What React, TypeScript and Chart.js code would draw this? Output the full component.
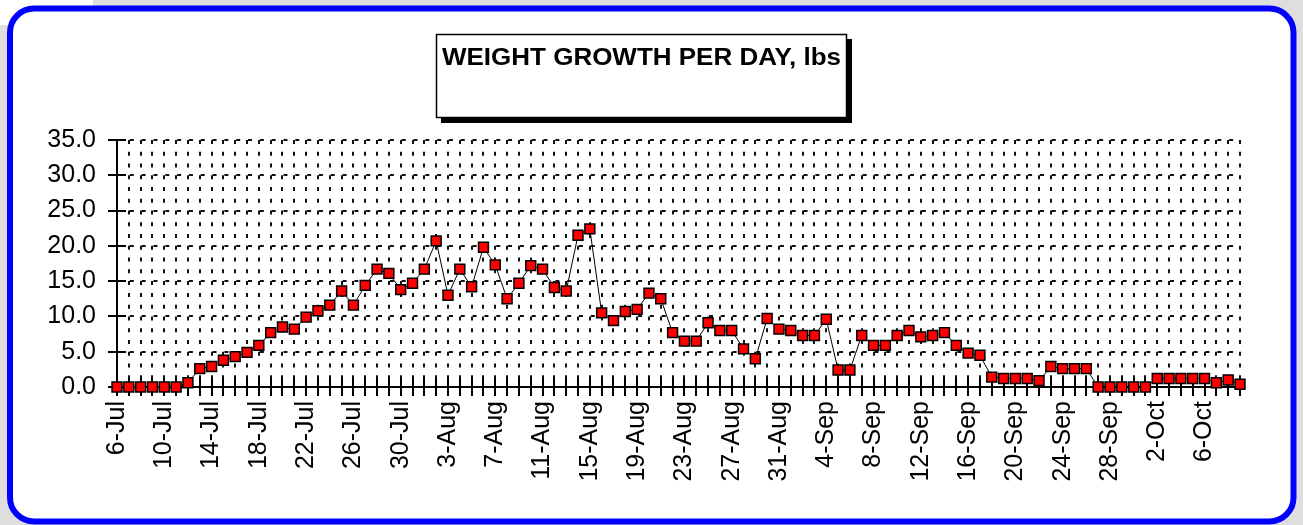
import React, { useEffect, useRef } from 'react';
import { Chart, registerables } from 'chart.js';

Chart.register(...registerables);

const DATES = [
  '6-Jul', '7-Jul', '8-Jul', '9-Jul', '10-Jul', '11-Jul', '12-Jul', '13-Jul', '14-Jul', '15-Jul',
  '16-Jul', '17-Jul', '18-Jul', '19-Jul', '20-Jul', '21-Jul', '22-Jul', '23-Jul', '24-Jul', '25-Jul',
  '26-Jul', '27-Jul', '28-Jul', '29-Jul', '30-Jul', '31-Jul',
  '1-Aug', '2-Aug', '3-Aug', '4-Aug', '5-Aug', '6-Aug', '7-Aug', '8-Aug', '9-Aug', '10-Aug',
  '11-Aug', '12-Aug', '13-Aug', '14-Aug', '15-Aug', '16-Aug', '17-Aug', '18-Aug', '19-Aug', '20-Aug',
  '21-Aug', '22-Aug', '23-Aug', '24-Aug', '25-Aug', '26-Aug', '27-Aug', '28-Aug', '29-Aug', '30-Aug', '31-Aug',
  '1-Sep', '2-Sep', '3-Sep', '4-Sep', '5-Sep', '6-Sep', '7-Sep', '8-Sep', '9-Sep', '10-Sep',
  '11-Sep', '12-Sep', '13-Sep', '14-Sep', '15-Sep', '16-Sep', '17-Sep', '18-Sep', '19-Sep', '20-Sep',
  '21-Sep', '22-Sep', '23-Sep', '24-Sep', '25-Sep', '26-Sep', '27-Sep', '28-Sep', '29-Sep', '30-Sep',
  '1-Oct', '2-Oct', '3-Oct', '4-Oct', '5-Oct', '6-Oct', '7-Oct', '8-Oct', '9-Oct',
];

const GROWTH = [
  0, 0, 0, 0, 0, 0, 0.6, 2.6, 2.9, 3.8,
  4.3, 4.9, 5.9, 7.7, 8.5, 8.2, 9.9, 10.8, 11.6, 13.6,
  11.6, 14.4, 16.7, 16.1, 13.8, 14.7, 16.7, 20.7, 13.0, 16.7,
  14.2, 19.8, 17.3, 12.5, 14.7, 17.2, 16.7, 14.1, 13.6, 21.5,
  22.4, 10.5, 9.4, 10.7, 11.0, 13.3, 12.5, 7.7, 6.5, 6.5,
  9.1, 8.0, 8.0, 5.4, 4.0, 9.7, 8.2, 8.0, 7.3, 7.3,
  9.6, 2.4, 2.4, 7.3, 5.9, 5.9, 7.3, 8.0, 7.1, 7.3,
  7.7, 5.9, 4.8, 4.5, 1.4, 1.2, 1.2, 1.2, 0.9, 2.9,
  2.6, 2.6, 2.6, 0, 0, 0, 0, 0, 1.2, 1.2,
  1.2, 1.2, 1.2, 0.6, 1.0, 0.4,
];

const TITLE = 'WEIGHT GROWTH PER DAY, lbs';
const Y_MIN = 0;
const Y_MAX = 35;
const Y_STEP = 5;
const LABEL_EVERY = 4;

const W = 1303;
const H = 525;
const FONT = '"Liberation Sans", Arial, sans-serif';

const framePlugin = {
  id: 'frame',
  beforeDraw(chart: any) {
    const ctx = chart.ctx as CanvasRenderingContext2D;
    ctx.save();
    ctx.fillStyle = '#dedede';
    ctx.fillRect(0, 0, W, H);
    ctx.fillStyle = '#ffffff';
    ctx.fillRect(0, 0, 93, 25);
    ctx.beginPath();
    (ctx as any).roundRect(10, 8.5, 1283.5, 513, 24);
    ctx.fill();
    ctx.lineWidth = 6;
    ctx.strokeStyle = '#0000ff';
    ctx.stroke();

    // title box with shadow
    ctx.fillStyle = '#000';
    ctx.fillRect(441, 39, 411, 84);
    ctx.fillStyle = '#fff';
    ctx.fillRect(436, 34, 411, 84);
    ctx.lineWidth = 1.5;
    ctx.strokeStyle = '#000';
    ctx.strokeRect(436.5, 34.5, 410, 83);
    ctx.font = 'bold 23px ' + FONT;
    const tw = ctx.measureText(TITLE).width;
    ctx.translate(641.5, 65);
    ctx.scale(399 / tw, 1);
    ctx.textAlign = 'center';
    ctx.textBaseline = 'alphabetic';
    ctx.fillStyle = '#000';
    ctx.fillText(TITLE, 0, 0);
    ctx.restore();
  },
  beforeDatasetsDraw(chart: any) {
    const ctx = chart.ctx as CanvasRenderingContext2D;
    const { chartArea, scales } = chart;
    const xs = scales.x;
    const ys = scales.y;
    ctx.save();
    ctx.strokeStyle = '#000';
    ctx.lineWidth = 2;
    ctx.beginPath();
    xs.ticks.forEach((_t: any, i: number) => {
      const px = Math.round(xs.getPixelForTick(i));
      ctx.moveTo(px, chartArea.bottom);
      ctx.lineTo(px, chartArea.bottom - 9);
    });
    ys.ticks.forEach((_t: any, i: number) => {
      const py = Math.round(ys.getPixelForTick(i));
      ctx.moveTo(chartArea.left, py);
      ctx.lineTo(chartArea.left + 9, py);
    });
    ctx.stroke();
    ctx.restore();
  },
};

export default function App() {
  const ref = useRef<HTMLCanvasElement | null>(null);

  useEffect(() => {
    if (!ref.current) return;
    const chart = new Chart(ref.current, {
      type: 'line',
      data: {
        labels: DATES,
        datasets: [
          {
            data: GROWTH,
            borderColor: '#000',
            borderWidth: 1,
            pointStyle: 'rect',
            pointRadius: 7,
            pointBackgroundColor: '#ff0000',
            pointBorderColor: '#000',
            pointBorderWidth: 1.5,
            tension: 0,
            clip: false as any,
          },
        ],
      },
      options: {
        responsive: false,
        animation: false,
        devicePixelRatio: 1,
        layout: { padding: { top: 140, right: 63, left: 0, bottom: 0 } },
        plugins: {
          legend: { display: false },
          title: { display: false },
          tooltip: { enabled: false },
        },
        scales: {
          x: {
            type: 'category',
            offset: false,
            grid: { color: '#111', lineWidth: 2, tickLength: 9, tickColor: '#000', tickWidth: 2 },
            border: { color: '#000', width: 2, dash: [4, 7.76] },
            ticks: {
              autoSkip: false,
              minRotation: 90,
              maxRotation: 90,
              padding: 5,
              color: '#000',
              font: { family: FONT, size: 25 },
              callback: (_v: any, i: number) => (i % LABEL_EVERY === 0 ? DATES[i] : ''),
            },
            afterFit: (s: any) => {
              s.height = 138;
            },
          },
          y: {
            min: Y_MIN,
            max: Y_MAX,
            grid: { color: '#111', lineWidth: 2, tickLength: 9, tickColor: '#000', tickWidth: 2 },
            border: { color: '#000', width: 2, dash: [4, 7.82] },
            ticks: {
              stepSize: Y_STEP,
              padding: 12,
              color: '#000',
              font: { family: FONT, size: 25 },
              callback: (v: any) => Number(v).toFixed(1),
            },
            afterFit: (s: any) => {
              s.width = 117;
            },
          },
        },
      },
      plugins: [framePlugin],
    });
    return () => chart.destroy();
  }, []);

  return (
    <div style={{ position: 'absolute', left: 0, top: 0, width: W, height: H }}>
      <canvas ref={ref} width={W} height={H} style={{ display: 'block', width: W, height: H }} />
    </div>
  );
}
